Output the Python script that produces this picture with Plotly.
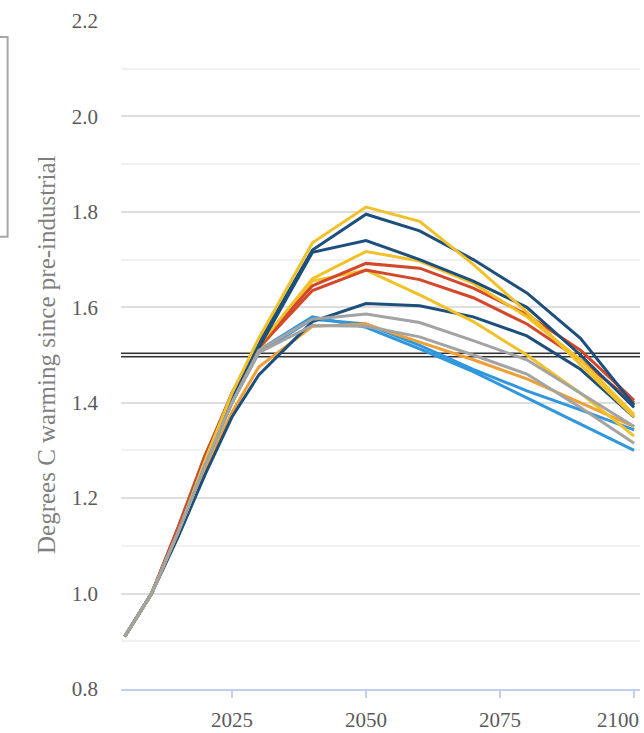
import plotly.graph_objects as go

# Modelled warming pathways (degrees C above pre-industrial)
years = [2005, 2010, 2015, 2020, 2025, 2030, 2040, 2050, 2060, 2070, 2080, 2090, 2100]

navy_a = [0.91, 1.00, 1.13, 1.28, 1.42, 1.525, 1.720, 1.795, 1.760, 1.700, 1.630, 1.535, 1.395]
gold_a = [0.91, 1.00, 1.13, 1.28, 1.42, 1.535, 1.735, 1.810, 1.780, 1.690, 1.590, 1.480, 1.370]
navy_b = [0.91, 1.00, 1.13, 1.28, 1.41, 1.515, 1.715, 1.740, 1.700, 1.655, 1.600, 1.500, 1.390]
gold_b = [0.91, 1.00, 1.13, 1.27, 1.41, 1.520, 1.660, 1.717, 1.697, 1.650, 1.580, 1.490, 1.375]
red_a = [0.91, 1.00, 1.14, 1.29, 1.42, 1.520, 1.645, 1.692, 1.682, 1.640, 1.585, 1.510, 1.405]
red_b = [0.91, 1.00, 1.14, 1.29, 1.41, 1.515, 1.635, 1.678, 1.658, 1.620, 1.565, 1.490, 1.400]
gold_c = [0.91, 1.00, 1.13, 1.27, 1.40, 1.510, 1.655, 1.678, 1.626, 1.570, 1.500, 1.420, 1.330]
navy_c = [0.91, 1.00, 1.12, 1.25, 1.37, 1.458, 1.570, 1.608, 1.603, 1.580, 1.540, 1.470, 1.370]
gray_a = [0.91, 1.00, 1.13, 1.27, 1.40, 1.510, 1.575, 1.586, 1.568, 1.530, 1.490, 1.420, 1.350]
gray_b = [0.91, 1.00, 1.13, 1.27, 1.40, 1.505, 1.562, 1.560, 1.538, 1.500, 1.460, 1.390, 1.315]
orange = [0.91, 1.00, 1.13, 1.26, 1.38, 1.475, 1.560, 1.565, 1.527, 1.490, 1.450, 1.400, 1.350]
blue_a = [0.91, 1.00, 1.13, 1.27, 1.40, 1.510, 1.580, 1.558, 1.513, 1.465, 1.410, 1.355, 1.300]
blue_b = [0.91, 1.00, 1.13, 1.27, 1.40, 1.505, 1.575, 1.565, 1.520, 1.470, 1.425, 1.385, 1.343]

threshold = 1.5
x_ticks = [2025, 2050, 2075, 2100]
y_ticks = [0.8, 1.0, 1.2, 1.4, 1.6, 1.8, 2.0, 2.2]
y_title = "Degrees C warming since pre-industrial"

NAVY = "#1d4f7c"
GOLD = "#f2c12a"
RED = "#d4472b"
BLUE = "#3197dc"
ORANGE = "#ef9f35"
GRAY = "#a3a3a3"
LABEL_FONT = dict(family="Liberation Serif", size=21, color="#5a5a5a")

# drawing order: later entries sit on top
series = [
    (blue_a, BLUE), (blue_b, BLUE), (orange, ORANGE),
    (navy_c, NAVY), (gold_c, GOLD), (red_b, RED), (red_a, RED), (gold_b, GOLD),
    (navy_b, NAVY), (navy_a, NAVY), (gold_a, GOLD),
    (gray_b, GRAY), (gray_a, GRAY),
]

fig = go.Figure()
for values, color in series:
    fig.add_trace(go.Scatter(
        x=years, y=values, mode="lines",
        line=dict(color=color, width=3),
        hoverinfo="skip", showlegend=False,
    ))

# 1.5 degree reference line (dark double rule)
fig.add_shape(type="line", xref="paper", x0=0, x1=1, yref="y", y0=threshold, y1=threshold,
              line=dict(color="#333333", width=5), layer="between")
fig.add_shape(type="line", xref="paper", x0=0, x1=1, yref="y", y0=threshold, y1=threshold,
              line=dict(color="#6e6e6e", width=1.2), layer="between")

# partially visible legend frame at the left edge
fig.add_shape(type="rect", xref="paper", yref="paper",
              x0=-0.245, x1=-0.2185, y0=0.677, y1=0.976,
              line=dict(color="#a6a6a6", width=2), fillcolor="rgba(0,0,0,0)")

fig.add_annotation(text=y_title, xref="paper", yref="paper", x=-0.1445, y=0.5,
                   xanchor="center", yanchor="middle", textangle=-90, showarrow=False,
                   font=dict(family="Liberation Serif", size=25, color="#7f7f7f"))

# year labels under the axis; the last one is kept inside the right edge
for i, yr in enumerate(x_ticks):
    last = i == len(x_ticks) - 1
    fig.add_annotation(text=str(yr), xref="x", yref="paper", x=yr, y=-0.0464,
                       xanchor="right" if last else "center", yanchor="middle",
                       xshift=7 if last else 0, showarrow=False, font=LABEL_FONT)

fig.update_layout(
    width=644, height=733,
    margin=dict(l=121, r=4, t=21, b=44),
    paper_bgcolor="white", plot_bgcolor="white",
    showlegend=False,
    xaxis=dict(
        range=[2004.3, 2101.1], tickvals=x_ticks, showticklabels=False,
        showgrid=False, zeroline=False, automargin=False,
        showline=True, linecolor="#c3d0ec", linewidth=1.5,
        ticks="outside", ticklen=7, tickcolor="#c3d0ec", tickwidth=1.5,
    ),
    yaxis=dict(
        range=[0.8, 2.2], tickvals=y_ticks, ticktext=[f"{v:.1f}" for v in y_ticks],
        showgrid=True, gridcolor="#dedede", gridwidth=1.5,
        minor=dict(dtick=0.1, tick0=0.8, showgrid=True, gridcolor="#f1f1f1", gridwidth=1.5),
        zeroline=False, automargin=False, showline=False, ticks="",
        ticklabelstandoff=22, ticklabeloverflow="allow",
        tickfont=LABEL_FONT,
    ),
)

fig.write_html("out.html")
